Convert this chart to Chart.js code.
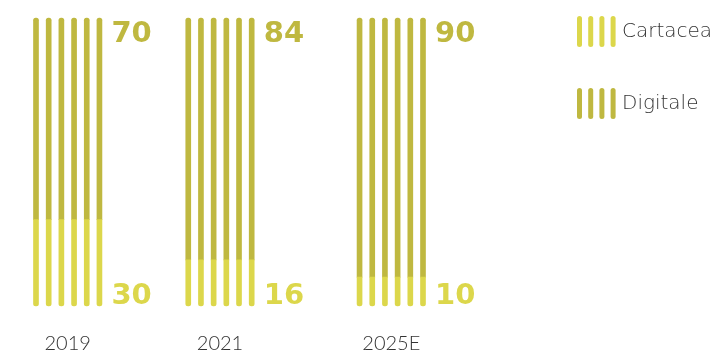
<!DOCTYPE html>
<html>
<head>
<meta charset="utf-8">
<script src="https://cdn.jsdelivr.net/npm/chart.js@4"></script>
<style>
  html, body { margin: 0; padding: 0; background: #fff; }
  canvas { display: block; }
</style>
</head>
<body>
<canvas id="paperChart" width="715" height="353"></canvas>
<script>
// values
const years = ['2019', '2021', '2025E'];
const cartacea = [30, 16, 10];
const digitale = [70, 84, 90];
const seriesNames = ['Cartacea', 'Digitale'];
const seriesColors = ['#dcd74b', '#bfb840'];

// layout: each year is drawn as 6 thin strands, placed on half-step slots
const strands = 6;
const groupStart = [0, 24, 51]; // first slot of each group
const slotCount = 62;

const slotLabels = [];
const cartaceaData = [];
const digitaleData = [];
for (let i = 0; i < slotCount; i++) {
    slotLabels.push('');
    cartaceaData.push(null);
    digitaleData.push(null);
}
groupStart.forEach((start, g) => {
    for (let s = 0; s < strands; s++) {
        cartaceaData[start + s * 2] = cartacea[g];
        digitaleData[start + s * 2] = digitale[g];
    }
    slotLabels[start + strands - 1] = years[g]; // centre of the group
});

const valueLabels = {
    id: 'valueLabels',
    afterDatasetsDraw(chart) {
        const { ctx, scales: { x, y } } = chart;
        ctx.save();
        ctx.textAlign = 'left';
        ctx.textBaseline = 'alphabetic';
        ctx.font = 'bold 29px "DejaVu Sans"';
        groupStart.forEach((start, g) => {
            const px = x.getPixelForValue(start + (strands - 1) * 2) + 12;
            ctx.fillStyle = seriesColors[1];
            ctx.fillText(String(digitale[g]), px, y.getPixelForValue(100) + 24);
            ctx.fillStyle = seriesColors[0];
            ctx.fillText(String(cartacea[g]), px, y.getPixelForValue(0) - 2);
        });

        // legend with strand swatches
        const legendX = 577;
        const legendY = [16, 88];
        seriesNames.forEach((name, k) => {
            ctx.strokeStyle = seriesColors[k];
            ctx.lineWidth = 5;
            ctx.lineCap = 'round';
            for (let s = 0; s < 4; s++) {
                const sx = legendX + 2.5 + s * 11.2;
                ctx.beginPath();
                ctx.moveTo(sx, legendY[k] + 2.5);
                ctx.lineTo(sx, legendY[k] + 28.5);
                ctx.stroke();
            }
            ctx.fillStyle = '#333';
            ctx.font = '200 20px "DejaVu Sans"';
            ctx.textBaseline = 'middle';
            ctx.fillText(name, 622, legendY[k] + 16);
        });
        ctx.restore();
    }
};

const ctx = document.getElementById('paperChart').getContext('2d');
const paperChart = new Chart(ctx, {
    type: 'bar',
    data: {
        labels: slotLabels,
        datasets: [
            {
                label: seriesNames[0],
                data: cartaceaData,
                backgroundColor: seriesColors[0],
                borderRadius: { bottomLeft: 2.5, bottomRight: 2.5 },
                borderSkipped: false,
                barThickness: 5,
                clip: false
            },
            {
                label: seriesNames[1],
                data: digitaleData,
                backgroundColor: seriesColors[1],
                borderRadius: { topLeft: 2.5, topRight: 2.5 },
                borderSkipped: false,
                barThickness: 5,
                clip: false
            }
        ]
    },
    options: {
        responsive: false,
        animation: false,
        layout: { padding: { left: 36, right: 292, top: 18, bottom: -29 } },
        plugins: {
            legend: { display: false },
            tooltip: { enabled: false }
        },
        scales: {
            x: {
                stacked: true,
                offset: false,
                grid: { display: false, drawTicks: false },
                border: { display: false },
                ticks: {
                    autoSkip: false,
                    maxRotation: 0,
                    minRotation: 0,
                    padding: 26,
                    color: '#333',
                    font: { family: 'Lato', size: 20, weight: 300 }
                }
            },
            y: {
                stacked: true,
                display: false,
                min: 0,
                max: 100
            }
        }
    },
    plugins: [valueLabels]
});
</script>
</body>
</html>
